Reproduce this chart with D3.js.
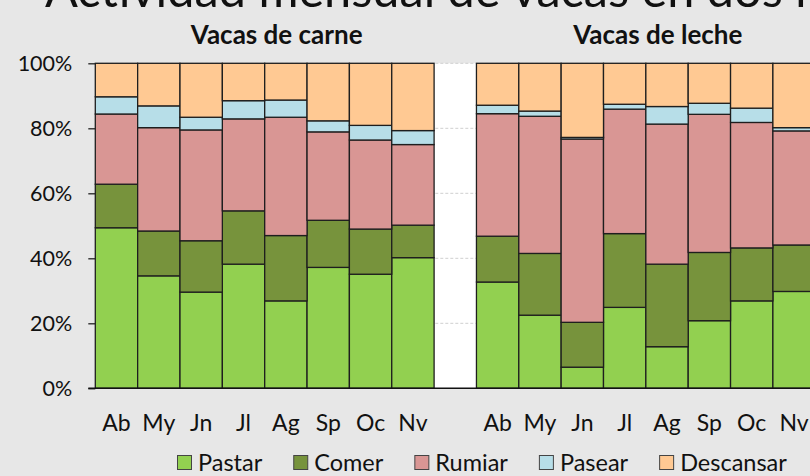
<!DOCTYPE html>
<html>
<head>
<meta charset="utf-8">
<script src="https://cdn.jsdelivr.net/npm/d3@7"></script>
<style>
  html, body { margin: 0; padding: 0; background: #e7e7e7; overflow: hidden; }
  svg { display: block; font-family: Lato, "Open Sans", "Noto Sans", sans-serif; }
</style>
</head>
<body>
<svg id="chart" width="810" height="476"></svg>
<script>
const title = "Actividad mensual de vacas en dos razas";
const panelTitles = ["Vacas de carne", "Vacas de leche"];
const months = ["Ab", "My", "Jn", "Jl", "Ag", "Sp", "Oc", "Nv"];
const activities = ["Pastar", "Comer", "Rumiar", "Pasear", "Descansar"];
const colors = ["#92D050", "#77933C", "#D99694", "#B7DEE8", "#FFC993"];
const yTicks = [0, 20, 40, 60, 80, 100];

const carnePastar    = [49.4, 34.6, 29.6, 38.2, 26.9, 37.2, 35.1, 40.2];
const carneComer     = [13.4, 13.8, 15.8, 16.4, 20.1, 14.5, 13.9, 10.0];
const carneRumiar    = [21.6, 31.8, 34.1, 28.3, 36.4, 27.2, 27.4, 24.8];
const carnePasear    = [5.3, 6.7, 3.9, 5.6, 5.3, 3.4, 4.5, 4.3];
const carneDescansar = [10.3, 13.1, 16.6, 11.5, 11.3, 17.7, 19.1, 20.7];

const lechePastar    = [32.7, 22.5, 6.5, 24.9, 12.8, 20.8, 26.9, 29.8];
const lecheComer     = [14.1, 19.0, 13.8, 22.7, 25.4, 21.0, 16.3, 14.3];
const lecheRumiar    = [37.7, 42.2, 56.4, 38.3, 43.1, 42.5, 38.6, 35.1];
const lechePasear    = [2.6, 1.6, 0.5, 1.5, 5.4, 3.4, 4.4, 1.0];
const lecheDescansar = [12.9, 14.7, 22.8, 12.6, 13.3, 12.3, 13.8, 19.8];

const carne = [carnePastar, carneComer, carneRumiar, carnePasear, carneDescansar];
const leche = [lechePastar, lecheComer, lecheRumiar, lechePasear, lecheDescansar];

(function () {
  const rows = [];
  months.forEach((m, i) => {
    const r = { key: "c-" + m, label: m, group: 0 };
    activities.forEach((a, k) => r[a] = carne[k][i]);
    rows.push(r);
  });
  const gapKey = "gap";
  months.forEach((m, i) => {
    const r = { key: "l-" + m, label: m, group: 1 };
    activities.forEach((a, k) => r[a] = leche[k][i]);
    rows.push(r);
  });
  const domainKeys = rows.slice(0, 8).map(d => d.key).concat([gapKey]).concat(rows.slice(8).map(d => d.key));

  const svg = d3.select("#chart");
  const W = 810, H = 476;
  svg.append("rect").attr("width", W).attr("height", H).attr("fill", "#e7e7e7");

  const pLeft = 95.3, bandW = 42.35, pTop = 63.3, pBottom = 388.3;
  const pWidth = bandW * domainKeys.length;
  const x = d3.scaleBand().domain(domainKeys).range([pLeft, pLeft + pWidth]).padding(0);
  const y = d3.scaleLinear().domain([0, 100]).range([pBottom, pTop]);

  svg.append("rect")
    .attr("x", pLeft).attr("y", pTop)
    .attr("width", pWidth).attr("height", pBottom - pTop)
    .attr("fill", "#ffffff");

  svg.append("g").selectAll("line").data(yTicks.filter(t => t > 0)).join("line")
    .attr("x1", pLeft).attr("x2", pLeft + pWidth)
    .attr("y1", d => y(d)).attr("y2", d => y(d))
    .attr("stroke", "#cfcfcf").attr("stroke-width", 1).attr("stroke-dasharray", "3,2");

  const series = d3.stack().keys(activities)(rows);
  const gBars = svg.append("g");
  series.forEach((s, k) => {
    gBars.append("g").attr("fill", colors[k])
      .selectAll("rect").data(s).join("rect")
      .attr("x", d => x(d.data.key))
      .attr("width", x.bandwidth())
      .attr("y", d => y(d[1]))
      .attr("height", d => y(d[0]) - y(d[1]))
      .attr("stroke", "#1e1e1e").attr("stroke-width", 1.3);
  });

  const yAxis = d3.axisLeft(y).tickValues(yTicks).tickFormat(d => d + "%").tickSize(7).tickPadding(16);
  const gy = svg.append("g").attr("transform", `translate(${pLeft},0)`).call(yAxis);
  gy.select(".domain").remove();
  gy.selectAll(".tick line").attr("stroke", "#222").attr("stroke-width", 1.3);
  gy.selectAll(".tick text").attr("font-size", 21.5).attr("fill", "#111").attr("font-family", "Lato, sans-serif");

  const xAxis = d3.axisBottom(x).tickSize(0).tickPadding(26).tickFormat(k => {
    const r = rows.find(d => d.key === k);
    return r ? r.label : "";
  });
  const gx = svg.append("g").attr("transform", `translate(0,${pBottom})`).call(xAxis);
  gx.select(".domain").remove();
  gx.selectAll(".tick text").attr("font-size", 23).attr("fill", "#111").attr("font-family", "Lato, sans-serif");
  svg.append("line").attr("x1", pLeft - 7).attr("x2", W).attr("y1", pBottom).attr("y2", pBottom)
    .attr("stroke", "#111").attr("stroke-width", 1.5);

  // title: sized so that the visible part matches the reference span
  const tt = svg.append("text").attr("x", 45).attr("y", 7).attr("font-size", 40).attr("fill", "#111")
    .text("Actividad mensual de vacas en dos r");
  const w0 = tt.node().getComputedTextLength();
  tt.attr("font-size", 40 * 768 / w0).text(title);

  [0, 1].forEach(g => {
    const keys = rows.filter(d => d.group === g).map(d => d.key);
    const cx = (x(keys[0]) + x(keys[keys.length - 1]) + x.bandwidth()) / 2 + 12;
    svg.append("text").attr("x", cx).attr("y", 44).attr("text-anchor", "middle")
      .attr("font-size", 26).attr("font-weight", "bold").attr("fill", "#111")
      .text(panelTitles[g]);
  });

  const lg = svg.append("g").attr("transform", "translate(177,455)");
  let lx = 0;
  activities.forEach((a, k) => {
    const it = lg.append("g").attr("transform", `translate(${lx},0)`);
    it.append("rect").attr("x", 0.5).attr("y", 0.5).attr("width", 14).attr("height", 14)
      .attr("fill", colors[k]).attr("stroke", "#444").attr("stroke-width", 1);
    const t = it.append("text").attr("x", 21).attr("y", 15.5).attr("font-size", 23.5).attr("fill", "#111").text(a);
    lx += 21 + t.node().getComputedTextLength() + 31;
  });
})();
</script>
</body>
</html>
